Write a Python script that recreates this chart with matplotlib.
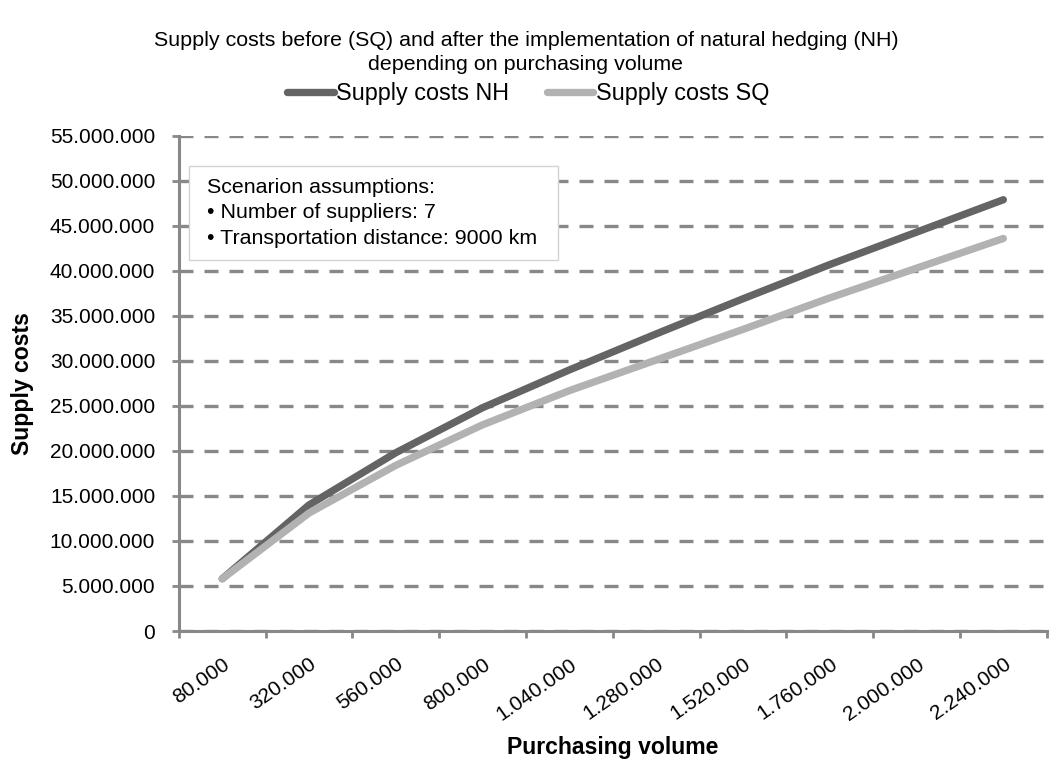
import matplotlib.pyplot as plt
import matplotlib.ticker as mticker
from matplotlib.patches import Rectangle
import numpy as np

plt.rcParams['font.family'] = ['Liberation Sans', 'DejaVu Sans']

# purchasing volume categories
volume = ['80.000', '320.000', '560.000', '800.000', '1.040.000', '1.280.000',
          '1.520.000', '1.760.000', '2.000.000', '2.240.000']
# supply costs
costs_nh = [5.8e6, 14.0e6, 19.8e6, 24.8e6, 29.0e6, 33.0e6, 36.9e6, 40.7e6, 44.3e6, 47.9e6]
costs_sq = [5.8e6, 13.1e6, 18.4e6, 22.9e6, 26.7e6, 30.1e6, 33.5e6, 37.0e6, 40.3e6, 43.6e6]

fs = 15
fig = plt.figure(figsize=(10.52, 7.63), dpi=100)
ax = fig.add_axes([0.170, 0.173, 0.825, 0.649])

x = np.arange(len(volume))
ax.plot(x, costs_nh, color='#646464', lw=5.3, solid_capstyle='round', label='Supply costs NH', zorder=3)
ax.plot(x, costs_sq, color='#b2b2b2', lw=5.3, solid_capstyle='round', label='Supply costs SQ', zorder=4)

ax.set_xlim(-0.5, len(volume) - 0.5)
ax.set_ylim(0, 55e6)
ax.set_yticks(np.arange(0, 55e6 + 1, 5e6))
ax.yaxis.set_major_formatter(mticker.FuncFormatter(lambda v, p: f'{int(v):,}'.replace(',', '.')))
ax.yaxis.grid(True, color='#888888', ls=(0, (4.2, 3.3)), lw=2.4)
ax.set_axisbelow(True)

ax.set_xticks(x)
ax.set_xticklabels(volume, rotation=35, ha='right', rotation_mode='anchor')
ax.set_xticks(np.arange(-0.5, len(volume)), minor=True)
ax.tick_params(axis='x', which='major', length=0, pad=17, labelsize=fs)
ax.tick_params(axis='x', which='minor', length=5, width=2, color='#888888')
ax.tick_params(axis='y', length=5, width=2, color='#888888', labelsize=fs, pad=12)

for s in ['top', 'right']:
    ax.spines[s].set_visible(False)
for s in ['left', 'bottom']:
    ax.spines[s].set_color('#888888')
    ax.spines[s].set_linewidth(2.2)

ax.set_ylabel('Supply costs', fontsize=16.6, fontweight='bold', va='center')
ax.yaxis.set_label_coords(-0.18, 0.5)
ax.set_xlabel('Purchasing volume', fontsize=16.6, fontweight='bold', va='center')
ax.xaxis.set_label_coords(0.5, -0.236)

fig.text(0.5, 0.931, 'Supply costs before (SQ) and after the implementation of natural hedging (NH)\n'
         'depending on purchasing volume', ha='center', va='center', fontsize=15.4, linespacing=1.3)

fig.legend(loc='center', bbox_to_anchor=(0.502, 0.877), ncol=2, frameon=False, fontsize=16.8,
           handlelength=2.0, handletextpad=0.1, columnspacing=1.6)

# scenario box
ax.add_patch(Rectangle((0.0115, 0.7495), 0.4251, 0.1899, transform=ax.transAxes,
                       fc='white', ec='#d4d4d4', lw=1, zorder=6))
ax.text(0.032, 0.8444, 'Scenarion assumptions:\n\u2022 Number of suppliers: 7\n\u2022 Transportation distance: 9000 km',
        transform=ax.transAxes, ha='left', va='center', fontsize=15.4, linespacing=1.42, zorder=7)

fig.savefig('out.png', dpi=100)
